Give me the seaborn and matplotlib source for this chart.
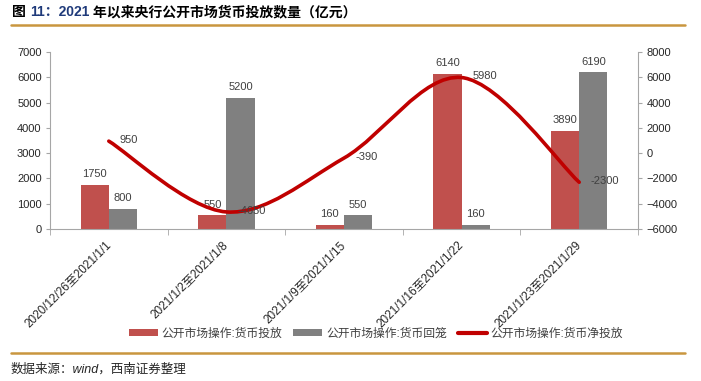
import numpy as np
import pandas as pd
import matplotlib.pyplot as plt
import seaborn as sns
from matplotlib.path import Path
from matplotlib.patches import PathPatch
from matplotlib.lines import Line2D

# 数据（亿元）
periods = ['2020/12/26至2021/1/1', '2021/1/2至2021/1/8', '2021/1/9至2021/1/15',
           '2021/1/16至2021/1/22', '2021/1/23至2021/1/29']
injection = [1750, 550, 160, 6140, 3890]
withdrawal = [800, 5200, 550, 160, 6190]
net_injection = [950, -4650, -390, 5980, -2300]
series_names = ['公开市场操作:货币投放', '公开市场操作:货币回笼', '公开市场操作:货币净投放']

RED = '#C0504D'
GRAY = '#808080'
LINE_RED = '#C00000'
GOLD = '#C9963F'
AXIS = '#A6A6A6'
TXT = '#262626'


def smooth_path(xs, ys):
    # Excel 风格的平滑曲线 (Catmull-Rom -> Bezier)
    pts = np.column_stack([xs, ys]).astype(float)
    ext = np.vstack([pts[0], pts, pts[-1]])
    verts = [pts[0]]
    codes = [Path.MOVETO]
    for i in range(len(pts) - 1):
        p0, p1, p2, p3 = ext[i], ext[i + 1], ext[i + 2], ext[i + 3]
        verts += [p1 + (p2 - p0) / 6, p2 - (p3 - p1) / 6, p2]
        codes += [Path.CURVE4] * 3
    return Path(verts, codes)


sns.set_style('ticks')
plt.rcParams['font.family'] = ['Liberation Sans', 'Noto Sans CJK SC']
plt.rcParams['axes.unicode_minus'] = True

df = pd.DataFrame({
    'period': periods * 2,
    'value': injection + withdrawal,
    'series': [series_names[0]] * len(periods) + [series_names[1]] * len(periods),
})

fig = plt.figure(figsize=(7.01, 3.81), dpi=100)
ax = fig.add_axes([50 / 701, 1 - 229 / 381, 588 / 701, 177 / 381])

sns.barplot(data=df, x='period', y='value', hue='series', order=periods,
            hue_order=series_names[:2], palette=[RED, GRAY], saturation=1,
            width=0.48, linewidth=0, ax=ax)
handles, labels = ax.get_legend_handles_labels()
ax.get_legend().remove()

for cont, vals in zip(ax.containers, [injection, withdrawal]):
    ax.bar_label(cont, labels=[f'{v}' for v in vals], padding=4, fontsize=8, color='#404040')

ax.set_ylim(0, 7000)
ax.set_yticks(range(0, 7001, 1000))
ax.set_xlim(-0.5, len(periods) - 0.5)
ax.set_xlabel('')
ax.set_ylabel('')
ax.set_xticks(np.arange(-0.5, len(periods), 1), minor=True)
ax.tick_params(axis='x', which='major', length=0, pad=10, labelsize=8.5, labelcolor=TXT)
ax.tick_params(axis='x', which='minor', length=4, color=AXIS)
ax.tick_params(axis='y', length=3, color=AXIS, labelsize=8, labelcolor=TXT, pad=3)
for lab in ax.get_xticklabels():
    lab.set_rotation(45)
    lab.set_ha('right')
    lab.set_va('center')
    lab.set_rotation_mode('anchor')

ax2 = ax.twinx()
ax2.set_ylim(-6000, 8000)
ax2.set_yticks(range(-6000, 8001, 2000))
ax2.tick_params(axis='y', length=3, color=AXIS, labelsize=8, labelcolor=TXT, pad=3)
xs = np.arange(len(periods))
ax2.add_patch(PathPatch(smooth_path(xs, net_injection), facecolor='none',
                        edgecolor=LINE_RED, lw=2.6, capstyle='round', zorder=3))
for x, v in zip(xs, net_injection):
    ax2.annotate(f'{v}', xy=(x, v), xytext=(8, 1), textcoords='offset points',
                 ha='left', va='center', fontsize=8, color='#404040')

for a in (ax, ax2):
    a.spines['top'].set_visible(False)
    for s in ('left', 'right', 'bottom'):
        a.spines[s].set_color(AXIS)
        a.spines[s].set_linewidth(0.8)
ax.spines['right'].set_visible(False)
ax2.spines['left'].set_visible(False)
ax2.spines['bottom'].set_visible(False)

handles.append(Line2D([], [], color=LINE_RED, lw=3))
labels.append(series_names[2])
fig.legend(handles, labels, loc='center', bbox_to_anchor=(376 / 701, 1 - 334 / 381),
           ncol=3, frameon=False, fontsize=8.5, handlelength=2.45, handleheight=0.5,
           handletextpad=0.35, columnspacing=0.9, labelcolor='#404040')

# 标题
t1 = fig.text(12 / 701, 1 - 19 / 381, '图 ', ha='left', va='bottom',
              fontsize=10, weight='bold', color='black')
t2 = ax.annotate('11：2021', xy=(1, 0), xycoords=t1, ha='left', va='bottom',
                 fontsize=10, weight='bold', color='#1F3A7A', annotation_clip=False)
ax.annotate(' 年以来央行公开市场货币投放数量（亿元）', xy=(1, 0), xycoords=t2,
            ha='left', va='bottom', fontsize=10, weight='bold', color='black',
            annotation_clip=False)

fig.add_artist(Line2D([11 / 701, 685 / 701], [1 - 25 / 381] * 2,
                      transform=fig.transFigure, color=GOLD, lw=1.8))
fig.add_artist(Line2D([11 / 701, 685 / 701], [1 - 353 / 381] * 2,
                      transform=fig.transFigure, color=GOLD, lw=1.8))
fig.text(11 / 701, 1 - 369 / 381, '数据来源：wind，西南证券整理', ha='left', va='center',
         fontsize=9, style='italic', color='#262626')

fig.savefig('out.png', dpi=100)
